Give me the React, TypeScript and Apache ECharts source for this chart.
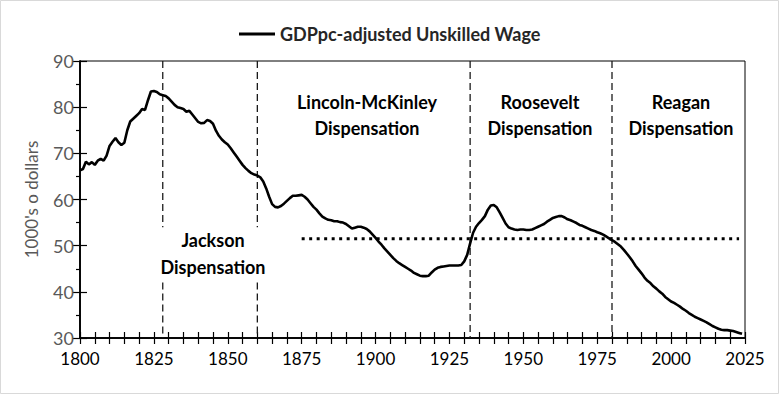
import React, { useEffect, useRef } from "react";
import * as echarts from "echarts";

const seriesName = "GDPpc-adjusted Unskilled Wage";
const yAxisName = "1000's o dollars";

const years = [
  1800, 1801, 1802, 1803, 1804, 1805, 1806, 1807, 1808, 1809,
  1810, 1811, 1812, 1813, 1814, 1815, 1816, 1817, 1818, 1819,
  1820, 1821, 1822, 1823, 1824, 1825, 1826, 1827, 1828, 1829,
  1830, 1831, 1832, 1833, 1834, 1835, 1836, 1837, 1838, 1839,
  1840, 1841, 1842, 1843, 1844, 1845, 1846, 1847, 1848, 1849,
  1850, 1851, 1852, 1853, 1854, 1855, 1856, 1857, 1858, 1859,
  1860, 1861, 1862, 1863, 1864, 1865, 1866, 1867, 1868, 1869,
  1870, 1871, 1872, 1873, 1874, 1875, 1876, 1877, 1878, 1879,
  1880, 1881, 1882, 1883, 1884, 1885, 1886, 1887, 1888, 1889,
  1890, 1891, 1892, 1893, 1894, 1895, 1896, 1897, 1898, 1899,
  1900, 1901, 1902, 1903, 1904, 1905, 1906, 1907, 1908, 1909,
  1910, 1911, 1912, 1913, 1914, 1915, 1916, 1917, 1918, 1919,
  1920, 1921, 1922, 1923, 1924, 1925, 1926, 1927, 1928, 1929,
  1930, 1931, 1932, 1933, 1934, 1935, 1936, 1937, 1938, 1939,
  1940, 1941, 1942, 1943, 1944, 1945, 1946, 1947, 1948, 1949,
  1950, 1951, 1952, 1953, 1954, 1955, 1956, 1957, 1958, 1959,
  1960, 1961, 1962, 1963, 1964, 1965, 1966, 1967, 1968, 1969,
  1970, 1971, 1972, 1973, 1974, 1975, 1976, 1977, 1978, 1979,
  1980, 1981, 1982, 1983, 1984, 1985, 1986, 1987, 1988, 1989,
  1990, 1991, 1992, 1993, 1994, 1995, 1996, 1997, 1998, 1999,
  2000, 2001, 2002, 2003, 2004, 2005, 2006, 2007, 2008, 2009,
  2010, 2011, 2012, 2013, 2014, 2015, 2016, 2017, 2018, 2019,
  2020, 2021, 2022, 2023, 2024,
];

const wages = [
  66.3, 66.6, 68.2, 67.6, 68.1, 67.5, 68.4, 68.8, 68.4, 69.5,
  71.6, 72.5, 73.3, 72.4, 71.8, 72.3, 75.0, 76.9, 77.5, 78.1,
  78.7, 79.6, 79.4, 81.5, 83.4, 83.5, 83.3, 82.8, 82.6, 82.4,
  81.9, 81.2, 80.5, 80.0, 79.8, 79.6, 79.0, 79.2, 78.4, 77.6,
  76.8, 76.5, 76.6, 77.2, 77.0, 76.4, 74.9, 73.8, 73.0, 72.4,
  71.9, 71.1, 70.2, 69.3, 68.4, 67.5, 66.8, 66.2, 65.7, 65.4,
  65.2, 64.8, 63.9, 62.4, 60.6, 59.0, 58.4, 58.3, 58.6, 59.1,
  59.7, 60.3, 60.8, 60.8, 60.9, 61.0, 60.6, 60.0, 59.2, 58.4,
  57.8, 57.0, 56.3, 55.9, 55.6, 55.5, 55.3, 55.3, 55.1, 55.0,
  54.7, 54.2, 53.7, 53.9, 54.1, 54.1, 53.9, 53.6, 53.1, 52.4,
  51.7, 50.9, 50.2, 49.4, 48.7, 48.0, 47.3, 46.7, 46.2, 45.8,
  45.4, 45.0, 44.6, 44.1, 43.8, 43.5, 43.4, 43.4, 43.5, 44.2,
  44.8, 45.2, 45.4, 45.5, 45.6, 45.7, 45.7, 45.7, 45.7, 45.8,
  46.6, 48.0, 50.5, 52.8, 54.1, 54.9, 55.6, 56.4, 57.8, 58.7,
  58.8, 58.3, 57.2, 56.0, 54.8, 54.0, 53.7, 53.5, 53.4, 53.5,
  53.5, 53.4, 53.4, 53.5, 53.8, 54.1, 54.4, 54.7, 55.2, 55.6,
  56.0, 56.2, 56.4, 56.4, 56.1, 55.7, 55.5, 55.2, 54.9, 54.5,
  54.3, 54.0, 53.7, 53.4, 53.2, 52.9, 52.7, 52.4, 52.0, 51.6,
  51.2, 50.8, 50.3, 49.8, 49.1, 48.3, 47.5, 46.6, 45.6, 44.8,
  44.0, 43.1, 42.4, 41.9, 41.2, 40.7, 40.1, 39.6, 38.9, 38.4,
  37.9, 37.6, 37.2, 36.8, 36.3, 35.9, 35.4, 35.0, 34.6, 34.3,
  34.0, 33.7, 33.4, 33.0, 32.6, 32.3, 32.0, 31.8, 31.7, 31.7,
  31.6, 31.5, 31.3, 31.1, 30.9,
];

// Era boundaries (vertical dashed lines) and their labels
const eraYears = [1828, 1860, 1932, 1980];
const eraNames = [
  "Jackson\nDispensation",
  "Lincoln-McKinley\nDispensation",
  "Roosevelt\nDispensation",
  "Reagan\nDispensation",
];

// Horizontal dotted reference level
const refLevel = 51.5;
const refStartYear = 1875;
const refEndYear = 2023;

const xMin = 1800;
const xMax = 2025;
const xInterval = 25;
const yMin = 30;
const yMax = 90;
const yInterval = 10;

export default function App() {
  const ref = useRef<HTMLDivElement>(null);

  useEffect(() => {
    if (!ref.current) return;
    const chart = echarts.init(ref.current, undefined, { renderer: "svg" });
    const FONT = "Lato, 'Liberation Sans', sans-serif";

    const wageData = years.map((y, i) => [y, wages[i]]);

    // era lines; the first two are interrupted where the "Jackson" label sits
    const gapLow = 42;
    const gapHigh = 54;
    const eraSeries: any[] = [];
    eraYears.forEach((yr, i) => {
      const segs =
        i < 2
          ? [
              [[yr, yMax], [yr, gapHigh]],
              [[yr, gapLow], [yr, yMin]],
            ]
          : [[[yr, yMax], [yr, yMin]]];
      segs.forEach((seg) => {
        eraSeries.push({
          type: "line",
          name: "era" + i,
          data: seg,
          xAxisIndex: 0,
          yAxisIndex: 0,
          showSymbol: false,
          silent: true,
          lineStyle: { color: "#1a1a1a", width: 1.3, type: [7, 4] },
          z: 1,
        });
      });
    });

    const labelPos = [
      { x: 213, y1: 240, y2: 267 },
      { x: 367, y1: 102, y2: 128 },
      { x: 540, y1: 102, y2: 128 },
      { x: 681, y1: 102, y2: 128 },
    ];
    const textGraphics: any[] = [];
    eraNames.forEach((nm, i) => {
      const [l1, l2] = nm.split("\n");
      const p = labelPos[i];
      [
        [l1, p.y1],
        [l2, p.y2],
      ].forEach(([t, y]) => {
        textGraphics.push({
          type: "text",
          x: p.x,
          y: y as number,
          silent: true,
          style: {
            text: t as string,
            fill: "#000",
            font: `bold 18px ${FONT}`,
            textAlign: "center",
            textVerticalAlign: "middle",
          },
        });
      });
    });

    const baseX = {
      type: "value",
      min: xMin,
      max: xMax,
      interval: xInterval,
      position: "bottom",
      splitLine: { show: false },
      axisLine: { show: true, lineStyle: { color: "#000", width: 1.5 } },
    };
    const baseY = {
      type: "value",
      min: yMin,
      max: yMax,
      interval: yInterval,
      position: "left",
      splitLine: { show: false },
      axisLine: { show: true, lineStyle: { color: "#000", width: 1.5 } },
    };

    chart.setOption({
      animation: false,
      backgroundColor: "#fff",
      grid: {
        left: 80,
        right: 34,
        top: 61,
        bottom: 56,
        show: true,
        borderColor: "#000",
        borderWidth: 1,
      },
      legend: {
        data: [seriesName],
        left: 234,
        top: 20,
        icon: "rect",
        itemWidth: 36,
        itemHeight: 3,
        itemGap: 10,
        textStyle: {
          fontFamily: FONT,
          fontSize: 18,
          fontWeight: "bold",
          color: "#262626",
        },
      },
      xAxis: [
        {
          ...baseX,
          axisTick: { show: true, inside: false, length: 6, lineStyle: { color: "#000", width: 1.2 } },
          minorTick: { show: true, splitNumber: 5, length: 6, lineStyle: { color: "#000", width: 1.2 } },
          axisLabel: {
            show: true,
            margin: 12,
            color: "#000",
            fontFamily: FONT,
            fontSize: 17,
            formatter: (v: number) => String(v),
          },
        },
        {
          ...baseX,
          axisTick: { show: true, inside: true, length: 6, lineStyle: { color: "#000", width: 1.2 } },
          minorTick: { show: true, splitNumber: 5, length: 6, lineStyle: { color: "#000", width: 1.2 } },
          axisLabel: { show: false },
        },
      ],
      yAxis: [
        {
          ...baseY,
          name: yAxisName,
          nameLocation: "middle",
          nameGap: 40,
          nameTextStyle: { color: "#595959", fontFamily: FONT, fontSize: 17 },
          axisTick: { show: true, inside: false, length: 7, lineStyle: { color: "#000", width: 1.2 } },
          minorTick: { show: true, splitNumber: 2, length: 4, lineStyle: { color: "#000", width: 1.2 } },
          axisLabel: {
            show: true,
            margin: 6,
            color: "#595959",
            fontFamily: FONT,
            fontSize: 18,
          },
        },
        {
          ...baseY,
          axisTick: { show: true, inside: true, length: 7, lineStyle: { color: "#000", width: 1.2 } },
          axisLabel: { show: false },
        },
      ],
      series: [
        {
          type: "line",
          name: seriesName,
          data: wageData,
          xAxisIndex: 0,
          yAxisIndex: 0,
          showSymbol: false,
          symbol: "none",
          color: "#000",
          lineStyle: { color: "#000", width: 2.6 },
          z: 3,
        },
        {
          type: "line",
          name: "reference",
          data: [
            [refStartYear, refLevel],
            [refEndYear, refLevel],
          ],
          xAxisIndex: 0,
          yAxisIndex: 0,
          showSymbol: false,
          silent: true,
          lineStyle: { color: "#000", width: 3, type: [3, 4.5], cap: "butt" },
          z: 2,
        },
        ...eraSeries,
      ],
      graphic: [
        {
          type: "rect",
          shape: { x: 0.5, y: 0.5, width: 778, height: 393 },
          silent: true,
          style: { fill: "none", stroke: "#d9d9d9", lineWidth: 1 },
          z: -10,
        },
        ...textGraphics,
      ],
    });

    return () => chart.dispose();
  }, []);

  return (
    <div
      ref={ref}
      style={{ position: "fixed", left: 0, top: 0, width: 779, height: 394 }}
    />
  );
}
